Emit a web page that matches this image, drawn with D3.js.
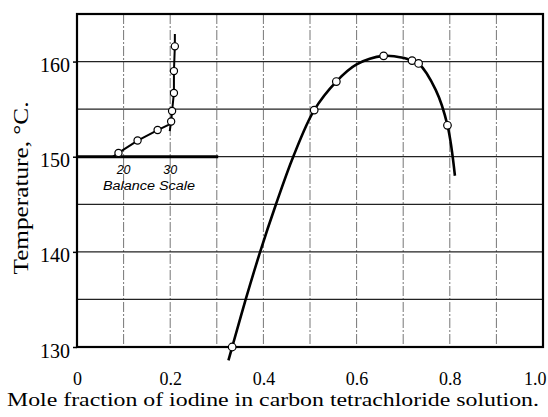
<!DOCTYPE html>
<html>
<head>
<meta charset="utf-8">
<script src="https://cdn.jsdelivr.net/npm/d3@7"></script>
<style>
  html, body { margin: 0; padding: 0; background: #fff; }
  svg { display: block; }
</style>
</head>
<body>
<div id="chart"></div>
<script>
// ---- Data ----
// Main solubility curve: measured points (open circles)
const pointMole = [0.333, 0.509, 0.5565, 0.658, 0.719, 0.733, 0.795];
const pointTemp = [130.0, 154.9, 157.9, 160.6, 160.1, 159.8, 153.3];
// Main curve trace
const curveMole = [0.325, 0.333, 0.362, 0.393, 0.427, 0.464, 0.509, 0.5565, 0.600, 0.658, 0.700, 0.719, 0.733, 0.770, 0.795, 0.811];
const curveTemp = [128.6, 130.0, 135.0, 140.0, 145.0, 150.0, 154.9, 157.9, 159.7, 160.6, 160.4, 160.1, 159.8, 157.0, 153.3, 148.0];

// Inset: balance scale readings
const balancePts = [18.9, 23.0, 27.3, 30.2, 30.4, 30.8, 30.8, 31.0];
const balanceTemp = [150.4, 151.7, 152.8, 153.7, 154.8, 156.7, 159.0, 161.6];
const balanceLineA = [17.7, 18.9, 23.0, 27.3, 30.3];
const balanceLineATemp = [150.0, 150.4, 151.7, 152.8, 153.5];
const balanceLineB = [29.9, 30.2, 30.4, 30.8, 30.8, 31.0, 31.0];
const balanceLineBTemp = [152.7, 153.7, 154.8, 156.7, 159.0, 161.6, 162.9];
const balanceTicks = [20, 30];
const balanceLabel = "Balance Scale";

const xTicks = [0, 0.2, 0.4, 0.6, 0.8, 1.0];
const xTickLabels = ["0", "0.2", "0.4", "0.6", "0.8", "1.0"];
const yTicks = [130, 140, 150, 160];
const xGrid = [0.1, 0.2, 0.3, 0.4, 0.5, 0.6, 0.7, 0.8, 0.9];
const yGrid = [135, 140, 145, 150, 155, 160];
const xTitle = "Mole fraction of iodine in carbon tetrachloride solution.";
const yTitle = "Temperature, °C.";

// ---- Layout ----
const W = 548, H = 417;
const mL = 77, mR = 543, mT = 14, mB = 347;
const SERIF = "'Liberation Serif', 'Times New Roman', serif";
const SANS = "'Liberation Sans', Arial, sans-serif";

const svg = d3.select("#chart").append("svg").attr("width", W).attr("height", H);

const x = d3.scaleLinear().domain([0, 1]).range([mL, mR]);
const y = d3.scaleLinear().domain([130, 165]).range([mB, mT]);
// Balance scale: 20 ↔ 0.1 mole-fraction position, 30 ↔ 0.2
const xb = d3.scaleLinear().domain([20, 30]).range([x(0.1), x(0.2)]);

// Grid
svg.append("g").selectAll("line").data(xGrid).join("line")
  .attr("x1", d => x(d)).attr("x2", d => x(d))
  .attr("y1", mT).attr("y2", mB)
  .attr("stroke", "#666").attr("stroke-width", 0.9)
  .attr("stroke-dasharray", "10,2,2,2");

svg.append("g").selectAll("line").data(yGrid).join("line")
  .attr("x1", mL).attr("x2", mR)
  .attr("y1", d => y(d)).attr("y2", d => y(d))
  .attr("stroke", "#222").attr("stroke-width", 1.2);

// Frame
svg.append("rect").attr("x", mL).attr("y", mT)
  .attr("width", mR - mL).attr("height", mB - mT)
  .attr("fill", "none").attr("stroke", "#000").attr("stroke-width", 2.2);

// Axes
const yAxis = d3.axisLeft(y).tickValues(yTicks).tickSize(4).tickPadding(3).tickFormat(d3.format("d"));
const gy = svg.append("g").attr("transform", `translate(${mL},0)`).call(yAxis);
gy.select(".domain").remove();
gy.attr("font-family", null).attr("font-size", null);
gy.selectAll(".tick line").attr("stroke", "#000").attr("stroke-width", 1.5);
gy.selectAll(".tick text").attr("dy", "0.5em")
  .style("font-family", SERIF).style("font-size", "20px").attr("fill", "#000");

const xAxis = d3.axisBottom(x).tickValues(xTicks).tickSize(0).tickPadding(25)
  .tickFormat((d, i) => xTickLabels[i]);
const gx = svg.append("g").attr("transform", `translate(0,${mB})`).call(xAxis);
gx.select(".domain").remove();
gx.attr("font-family", null).attr("font-size", null);
gx.selectAll(".tick text")
  .style("font-family", SERIF).style("font-size", "18px").attr("fill", "#000")
  .attr("text-anchor", (d, i) => i === xTicks.length - 1 ? "end" : "middle")
  .attr("dx", (d, i) => i === xTicks.length - 1 ? 3 : 0);

// Titles
svg.append("text").attr("x", 273).attr("y", 406).attr("text-anchor", "middle")
  .style("font-family", SERIF).style("font-size", "19px")
  .attr("textLength", 532).attr("lengthAdjust", "spacingAndGlyphs")
  .text(xTitle);

svg.append("text").attr("transform", "translate(28,188) rotate(-90)")
  .attr("text-anchor", "middle")
  .style("font-family", SERIF).style("font-size", "20px")
  .attr("textLength", 173).attr("lengthAdjust", "spacingAndGlyphs")
  .text(yTitle);

// Inset baseline (balance scale axis)
svg.append("line").attr("x1", mL).attr("x2", x(0.303))
  .attr("y1", y(150)).attr("y2", y(150))
  .attr("stroke", "#000").attr("stroke-width", 3);

svg.append("g").selectAll("text").data(balanceTicks).join("text")
  .attr("x", d => xb(d)).attr("y", 174).attr("text-anchor", "middle")
  .style("font-family", SANS).style("font-style", "italic")
  .style("font-size", "12.5px").text(d => d);

svg.append("text").attr("x", 149).attr("y", 190).attr("text-anchor", "middle")
  .style("font-family", SANS).style("font-style", "italic")
  .style("font-size", "12.5px").attr("textLength", 92).attr("lengthAdjust", "spacingAndGlyphs")
  .text(balanceLabel);

// Inset lines
const lineB = d3.line().x(d => xb(d[0])).y(d => y(d[1]));
svg.append("path").datum(d3.zip(balanceLineA, balanceLineATemp))
  .attr("d", lineB).attr("fill", "none").attr("stroke", "#000").attr("stroke-width", 2);
svg.append("path").datum(d3.zip(balanceLineB, balanceLineBTemp))
  .attr("d", lineB).attr("fill", "none").attr("stroke", "#000").attr("stroke-width", 2);

svg.append("g").selectAll("circle").data(d3.zip(balancePts, balanceTemp)).join("circle")
  .attr("cx", d => xb(d[0])).attr("cy", d => y(d[1])).attr("r", 3.6)
  .attr("fill", "#fff").attr("stroke", "#000").attr("stroke-width", 1.2);

// Main curve
const lineM = d3.line().x(d => x(d[0])).y(d => y(d[1])).curve(d3.curveCatmullRom.alpha(0.5));
svg.append("path").datum(d3.zip(curveMole, curveTemp))
  .attr("d", lineM).attr("fill", "none").attr("stroke", "#000").attr("stroke-width", 2.6);

svg.append("g").selectAll("circle").data(d3.zip(pointMole, pointTemp)).join("circle")
  .attr("cx", d => x(d[0])).attr("cy", d => y(d[1])).attr("r", 3.8)
  .attr("fill", "#fff").attr("stroke", "#000").attr("stroke-width", 1.2);
</script>
</body>
</html>
